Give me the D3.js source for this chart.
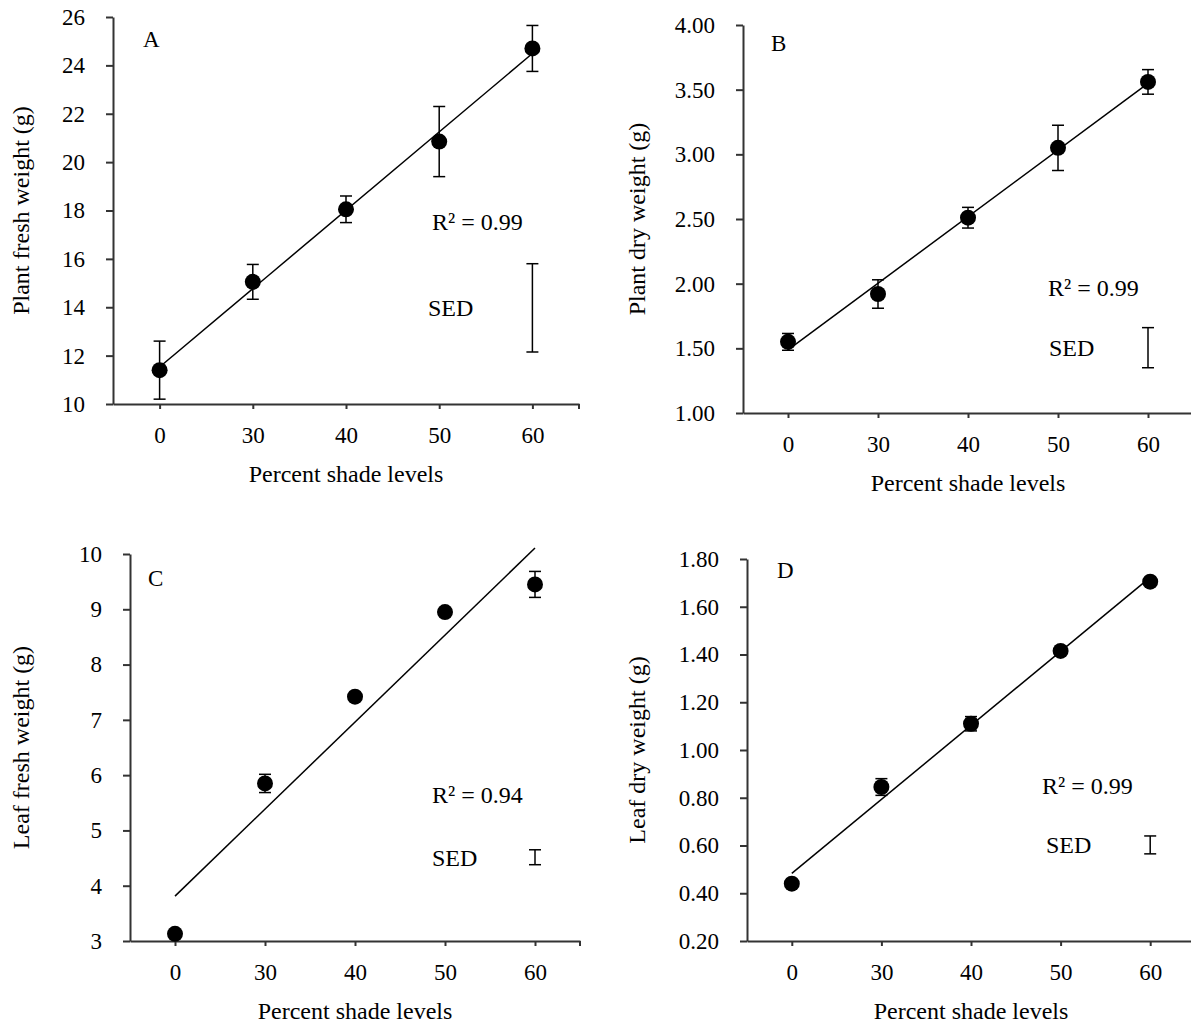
<!DOCTYPE html>
<html lang="en">
<head>
  <meta charset="UTF-8">
  <title>Shade levels and plant weight</title>
  <script src="https://d3js.org/d3.v7.min.js"></script>
  <style>
    body { margin: 0; background: #fff; }
    svg text { font-family: "Liberation Serif", "Times New Roman", serif; fill: #000; }
  </style>
</head>
<body>
  <script>
    // 1. Data
    const shadeLevels = ["0", "30", "40", "50", "60"];

    // A - plant fresh weight
    const plantFreshMean = [11.4, 15.05, 18.05, 20.85, 24.7];
    const plantFreshErr  = [1.2, 0.72, 0.55, 1.45, 0.95];
    const plantFreshTicks = [10, 12, 14, 16, 18, 20, 22, 24, 26];
    const plantFreshSED = [12.15, 15.8];

    // B - plant dry weight
    const plantDryMean = [1.55, 1.92, 2.51, 3.05, 3.56];
    const plantDryErr  = [0.065, 0.11, 0.08, 0.175, 0.095];
    const plantDryTicks = [1.0, 1.5, 2.0, 2.5, 3.0, 3.5, 4.0];
    const plantDrySED = [1.35, 1.66];

    // C - leaf fresh weight
    const leafFreshMean = [3.13, 5.85, 7.42, 8.95, 9.45];
    const leafFreshErr  = [0.03, 0.165, 0.04, 0.05, 0.235];
    const leafFreshTicks = [3, 4, 5, 6, 7, 8, 9, 10];
    const leafFreshSED = [4.38, 4.65];

    // D - leaf dry weight
    const leafDryMean = [0.44, 0.845, 1.11, 1.415, 1.705];
    const leafDryErr  = [0.005, 0.035, 0.03, 0.005, 0.005];
    const leafDryTicks = [0.2, 0.4, 0.6, 0.8, 1.0, 1.2, 1.4, 1.6, 1.8];
    const leafDrySED = [0.565, 0.64];

    const panelLetters = ["A", "B", "C", "D"];
    const r2Labels = ["R² = 0.99", "R² = 0.99", "R² = 0.94", "R² = 0.99"];
    const yTitles = ["Plant fresh weight (g)", "Plant dry weight (g)",
                     "Leaf fresh weight (g)", "Leaf dry weight (g)"];
    const xTitle = "Percent shade levels";

    // 2. Layout for each panel
    const panels = [
      { mean: plantFreshMean, err: plantFreshErr, ticks: plantFreshTicks, sed: plantFreshSED, fmt: d3.format("d"),
        left: 113, right: 579, top: 17, bottom: 404, titleX: 21, letter: [143, 47], r2: [432, 222], sedX: 428 },
      { mean: plantDryMean, err: plantDryErr, ticks: plantDryTicks, sed: plantDrySED, fmt: d3.format(".2f"),
        left: 743, right: 1193, top: 25, bottom: 413, titleX: 637, letter: [771, 51], r2: [1048, 288], sedX: 1049 },
      { mean: leafFreshMean, err: leafFreshErr, ticks: leafFreshTicks, sed: leafFreshSED, fmt: d3.format("d"),
        left: 130, right: 580, top: 554, bottom: 941, titleX: 21, letter: [148, 586], r2: [432, 795], sedX: 432 },
      { mean: leafDryMean, err: leafDryErr, ticks: leafDryTicks, sed: leafDrySED, fmt: d3.format(".2f"),
        left: 747, right: 1195, top: 559, bottom: 941, titleX: 637, letter: [777, 578], r2: [1042, 786], sedX: 1046 }
    ];

    const width = 1191, height = 1023;
    const axisColor = "#333";
    const tickFont = 23, labelFont = 24;

    const svg = d3.select("body")
                  .append("svg")
                  .attr("width", width)
                  .attr("height", height);

    // least squares fit against category index (as a spreadsheet trendline does)
    function linearFit(vals) {
      const n = vals.length;
      const mx = (n - 1) / 2;
      const my = d3.mean(vals);
      let sxy = 0, sxx = 0;
      vals.forEach((v, i) => { sxy += (i - mx) * (v - my); sxx += (i - mx) * (i - mx); });
      const slope = sxy / sxx;
      return i => my + slope * (i - mx);
    }

    panels.forEach((p, k) => {
      const g = svg.append("g");

      // 3. Scales
      const x = d3.scalePoint()
                  .domain(shadeLevels)
                  .range([p.left, p.right])
                  .padding(0.5);
      const y = d3.scaleLinear()
                  .domain([p.ticks[0], p.ticks[p.ticks.length - 1]])
                  .range([p.bottom, p.top]);

      // 4. Axes
      const yAxis = g.append("g")
         .attr("transform", `translate(${p.left},0)`)
         .call(d3.axisLeft(y).tickValues(p.ticks).tickFormat(p.fmt)
                 .tickSize(7).tickSizeOuter(0).tickPadding(21));
      const xAxis = g.append("g")
         .attr("transform", `translate(0,${p.bottom})`)
         .call(d3.axisBottom(x).tickSize(5).tickSizeOuter(0).tickPadding(18));
      [yAxis, xAxis].forEach(a => {
        a.selectAll("path, line").attr("stroke", axisColor).attr("stroke-width", 2);
        a.selectAll("text").attr("font-size", tickFont).attr("fill", "#000");
      });
      // closing tick at the right end of the category axis
      g.append("line")
       .attr("x1", p.right).attr("x2", p.right)
       .attr("y1", p.bottom).attr("y2", p.bottom + 5)
       .attr("stroke", axisColor).attr("stroke-width", 2);

      // 5. Titles and labels
      g.append("text")
       .attr("x", (p.left + p.right) / 2).attr("y", p.bottom + 78)
       .attr("text-anchor", "middle").attr("font-size", labelFont)
       .text(xTitle);
      g.append("text")
       .attr("transform", `translate(${p.titleX},${(p.top + p.bottom) / 2}) rotate(-90)`)
       .attr("text-anchor", "middle").attr("dy", "0.35em").attr("font-size", labelFont)
       .text(yTitles[k]);
      g.append("text")
       .attr("x", p.letter[0]).attr("y", p.letter[1])
       .attr("font-size", tickFont)
       .text(panelLetters[k]);
      g.append("text")
       .attr("x", p.r2[0]).attr("y", p.r2[1]).attr("dy", "0.35em")
       .attr("font-size", labelFont)
       .text(r2Labels[k]);

      // 6. Fit line
      const fit = linearFit(p.mean);
      const last = shadeLevels.length - 1;
      g.append("line")
       .attr("x1", x(shadeLevels[0])).attr("y1", y(fit(0)))
       .attr("x2", x(shadeLevels[last])).attr("y2", y(fit(last)))
       .attr("stroke", "#000").attr("stroke-width", 1.5);

      // 7. Error bars
      const eb = g.selectAll(".eb")
                  .data(shadeLevels.map((c, i) => ({ c, v: p.mean[i], e: p.err[i] })))
                  .enter().append("g");
      eb.append("line")
        .attr("x1", d => x(d.c)).attr("x2", d => x(d.c))
        .attr("y1", d => y(d.v - d.e)).attr("y2", d => y(d.v + d.e));
      eb.append("line")
        .attr("x1", d => x(d.c) - 6).attr("x2", d => x(d.c) + 6)
        .attr("y1", d => y(d.v - d.e)).attr("y2", d => y(d.v - d.e));
      eb.append("line")
        .attr("x1", d => x(d.c) - 6).attr("x2", d => x(d.c) + 6)
        .attr("y1", d => y(d.v + d.e)).attr("y2", d => y(d.v + d.e));
      eb.selectAll("line").attr("stroke", "#000").attr("stroke-width", 1.5);

      // 8. Points
      g.selectAll("circle")
       .data(shadeLevels.map((c, i) => ({ c, v: p.mean[i] })))
       .enter().append("circle")
       .attr("cx", d => x(d.c))
       .attr("cy", d => y(d.v))
       .attr("r", 8)
       .attr("fill", "#000");

      // 9. SED bar
      const sx = x(shadeLevels[last]);
      const sed = g.append("g");
      sed.append("line").attr("x1", sx).attr("x2", sx)
         .attr("y1", y(p.sed[0])).attr("y2", y(p.sed[1]));
      p.sed.forEach(v => {
        sed.append("line").attr("x1", sx - 6).attr("x2", sx + 6)
           .attr("y1", y(v)).attr("y2", y(v));
      });
      sed.selectAll("line").attr("stroke", "#000").attr("stroke-width", 1.5);
      g.append("text")
       .attr("x", p.sedX).attr("y", y((p.sed[0] + p.sed[1]) / 2)).attr("dy", "0.35em")
       .attr("font-size", labelFont)
       .text("SED");
    });
  </script>
</body>
</html>
